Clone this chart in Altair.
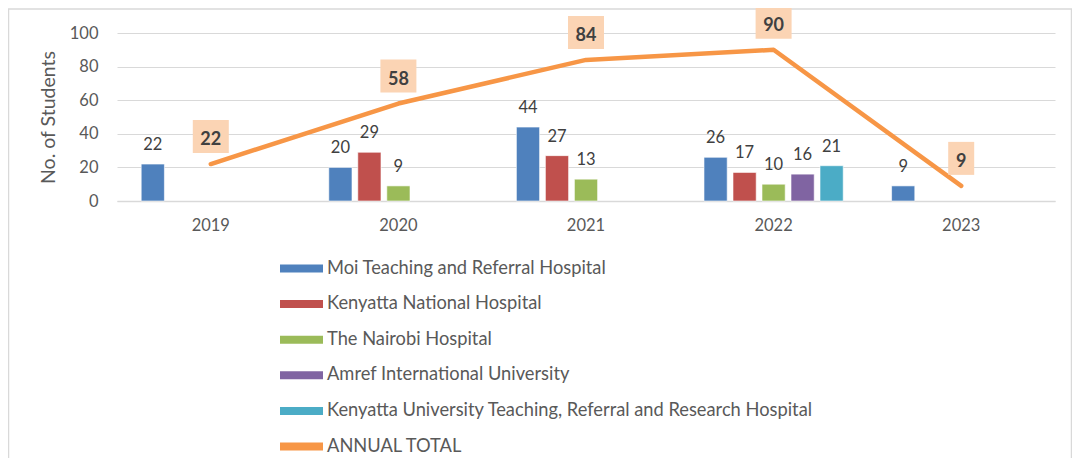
import altair as alt
import pandas as pd

years = ["2019", "2020", "2021", "2022", "2023"]
series_names = [
    "Moi Teaching and Referral Hospital",
    "Kenyatta National Hospital",
    "The Nairobi Hospital",
    "Amref International University",
    "Kenyatta University Teaching, Referral and Research Hospital",
]
moi = [22, 20, 44, 26, 9]
knh = [None, 29, 27, 17, None]
nairobi = [None, 9, 13, 10, None]
amref = [None, None, None, 16, None]
kutrrh = [None, None, None, 21, None]
annual_total = [22, 58, 84, 90, 9]
total_name = "ANNUAL TOTAL"

colors = ["#4F81BD", "#C0504D", "#9BBB59", "#8064A2", "#4BACC6", "#F79646"]

rows = []
for name, vals in zip(series_names, [moi, knh, nairobi, amref, kutrrh]):
    for yr, v in zip(years, vals):
        if v is not None:
            rows.append({"year": yr, "series": name, "value": v})
bars_df = pd.DataFrame(rows)
total_df = pd.DataFrame({"year": years, "value": annual_total})

FONT = "Lato"
TXT = "#595959"

x_enc = alt.X(
    "year:N",
    scale=alt.Scale(domain=years, paddingInner=0.227, paddingOuter=0.1135),
    axis=alt.Axis(title=None, labelAngle=0, ticks=False, domainColor="#D9D9D9",
                  domainWidth=1.5, labelPadding=16, labelFontSize=16.5,
                  labelColor=TXT, labelFont=FONT, grid=False),
)
y_enc = alt.Y(
    "value:Q",
    scale=alt.Scale(domain=[0, 100]),
    axis=alt.Axis(values=[0, 20, 40, 60, 80, 100], title="No. of Students",
                  grid=True, gridColor="#D9D9D9", gridWidth=1.2, domain=False,
                  ticks=False, labelPadding=19, labelFontSize=16.5, labelColor=TXT,
                  labelFont=FONT, labelOverlap=False, labelFlush=False,
                  titleFont=FONT, titleFontSize=19.5,
                  titleFontWeight="normal", titleColor=TXT, titlePadding=11),
)
xoff = alt.XOffset("series:N", scale=alt.Scale(domain=series_names, paddingInner=0.2, paddingOuter=0.1))

frame = alt.Chart(pd.DataFrame({"a": [0]})).mark_rect(
    fillOpacity=0, stroke="#D9D9D9", strokeWidth=1.5
).encode(x=alt.value(-108.5), x2=alt.value(954.5), y=alt.value(-24), y2=alt.value(480))

bars = alt.Chart(bars_df).mark_bar(stroke="white", strokeWidth=0.6).encode(
    x=x_enc,
    xOffset=xoff,
    y=y_enc,
    color=alt.Color(
        "series:N",
        scale=alt.Scale(domain=series_names + [total_name], range=colors),
        legend=alt.Legend(
            orient="none", legendX=174.5, legendY=225.5, direction="vertical", title=None,
            symbolType="M-2.15,-0.4H2.15V0.4H-2.15Z", symbolSize=400, symbolStrokeWidth=0,
            symbolOpacity=1, labelFontSize=18.3, labelColor=TXT, labelFont=FONT,
            labelOffset=15.5, rowPadding=16.6, labelLimit=700,
        ),
    ),
)

bar_labels = alt.Chart(bars_df).mark_text(
    baseline="alphabetic", dy=-14, fontSize=16.5, font=FONT, color="#404040"
).encode(x=x_enc, xOffset=xoff, y=y_enc, text="value:Q")

line = alt.Chart(total_df).mark_line(color="#F79646", strokeWidth=4.5, strokeCap="round", strokeJoin="round").encode(
    x=x_enc, y=y_enc
)

box_wide = alt.Chart(total_df).transform_filter("datum.value >= 10").mark_bar(
    width=36, yOffset=-44, y2Offset=-11, color="#FBD4B4"
).encode(x=x_enc, y=y_enc, y2=alt.Y2("value"))
box_narrow = alt.Chart(total_df).transform_filter("datum.value < 10").mark_bar(
    width=26, yOffset=-44, y2Offset=-11, color="#FBD4B4"
).encode(x=x_enc, y=y_enc, y2=alt.Y2("value"))

total_labels = alt.Chart(total_df).mark_text(
    baseline="alphabetic", dy=-19, fontSize=18, fontWeight="bold", font=FONT, color="#404040"
).encode(x=x_enc, y=y_enc, text="value:Q")

chart = alt.layer(frame, bars, bar_labels, line, box_wide, box_narrow, total_labels).properties(
    width=938, height=168,
    autosize=alt.AutoSizeParams(type="none"),
    padding={"left": 109, "top": 25, "right": 17, "bottom": 257},
).configure(background="white").configure_view(stroke="transparent")

chart.save("out.html", embed_options={"renderer": "svg", "actions": False})
